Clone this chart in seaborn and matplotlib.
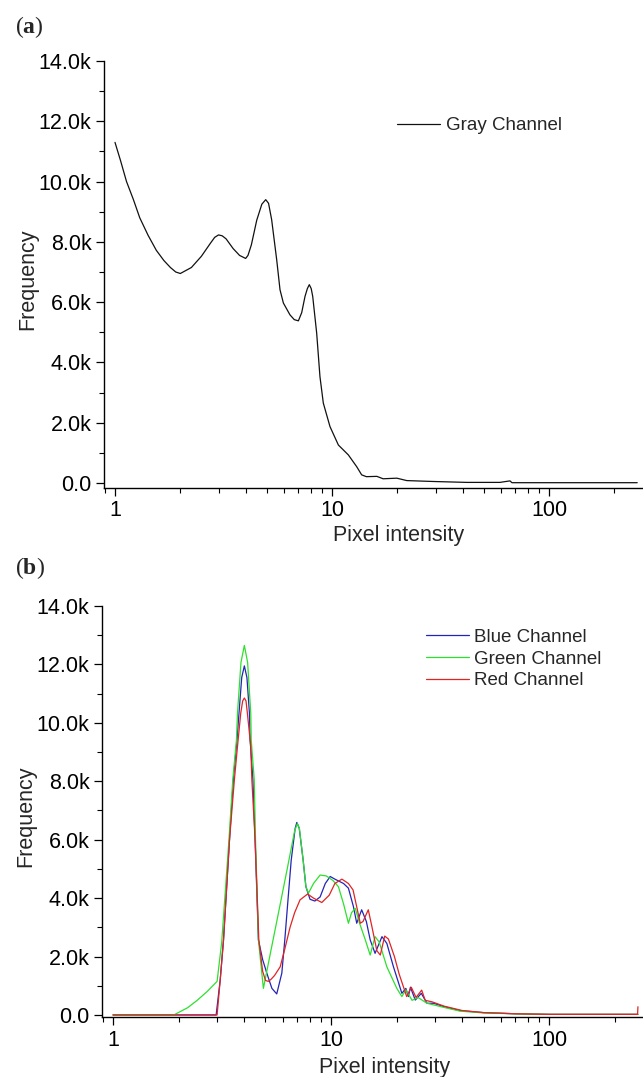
import numpy as np
import pandas as pd
import matplotlib
matplotlib.use("Agg")
import matplotlib.pyplot as plt
import seaborn as sns
from matplotlib.ticker import FuncFormatter, MultipleLocator, LogLocator, NullFormatter

# ---------------- data ----------------
gray_x = [1, 1.06, 1.13, 1.216, 1.3, 1.42, 1.55, 1.68, 1.8, 1.905, 2.0, 2.25, 2.5, 2.75,
          2.88, 3.0, 3.12, 3.25, 3.5, 3.75, 4.0, 4.1, 4.25, 4.5, 4.75, 4.95, 5.1, 5.27,
          5.56, 5.76, 5.97, 6.4, 6.7, 7.0, 7.25, 7.51, 7.7, 7.86, 8.02, 8.15, 8.5, 8.8,
          9.12, 9.79, 10.7, 11.9, 13.0, 13.7, 14.4, 16.1, 17.2, 19.9, 22.1, 29.3, 41.8,
          59.4, 66.1, 67.5, 100, 150, 200, 255]
gray_y = [11.3, 10.7, 10.0, 9.4, 8.8, 8.22, 7.72, 7.38, 7.15, 7.0, 6.95, 7.15, 7.52, 7.95,
          8.15, 8.23, 8.2, 8.1, 7.78, 7.55, 7.45, 7.55, 7.9, 8.72, 9.25, 9.4, 9.28, 8.74,
          7.41, 6.41, 5.97, 5.58, 5.42, 5.38, 5.65, 6.19, 6.45, 6.58, 6.45, 6.19, 4.97, 3.53,
          2.65, 1.87, 1.26, 0.93, 0.54, 0.27, 0.21, 0.22, 0.14, 0.16, 0.08, 0.05, 0.02,
          0.02, 0.07, 0.01, 0.01, 0.01, 0.01, 0.01]

blue_x = [1, 2.0, 2.97, 3.1, 3.21, 3.42, 3.56, 3.7, 3.78, 3.89, 4.0, 4.11, 4.22, 4.25,
          4.38, 4.48, 4.64, 4.85, 5.07, 5.35, 5.63, 5.94, 6.13, 6.34, 6.56, 6.84, 6.96,
          7.14, 7.44, 7.66, 8.0, 8.42, 8.9, 9.4, 9.9, 10.4, 11.4, 12.0, 12.65, 13.1,
          13.8, 14.5, 15.1, 15.9, 17.1, 18.0, 19.3, 21.1, 22.0, 22.6, 23.1, 24.3, 25.9,
          27.5, 29.5, 32.7, 39, 50, 70, 100, 150, 255]
blue_y = [0, 0, 0, 1.2, 2.57, 6.0, 8.05, 9.42, 10.33, 11.55, 11.95, 11.55, 10.33, 9.42,
          8.05, 6.0, 2.57, 1.9, 1.43, 0.91, 0.72, 1.43, 2.57, 3.94, 5.3, 6.39, 6.59,
          6.39, 5.3, 4.39, 3.96, 3.9, 4.04, 4.5, 4.74, 4.65, 4.5, 4.34, 3.71, 3.14,
          3.6, 3.2, 2.57, 2.11, 2.68, 2.45, 1.65, 0.74, 0.91, 0.63, 0.95, 0.51, 0.74,
          0.4, 0.4, 0.29, 0.15, 0.08, 0.04, 0.02, 0.02, 0.02]

green_x = [1, 1.9, 2.2, 2.43, 2.7, 3.0, 3.15, 3.4, 3.54, 3.68, 3.72, 3.86, 4.0, 4.14,
           4.28, 4.3, 4.44, 4.5, 4.64, 4.89, 5.3, 5.8, 6.3, 6.8, 7.0, 7.15,
           7.44, 7.66, 7.87, 8.3, 8.9, 9.5, 10.2, 10.8, 11.4, 12.0, 12.4, 12.9, 13.5,
           14.3, 15.1, 15.9, 16.6, 18.0, 20.0, 21.1, 22.0, 23.5, 25.0, 27.5, 32, 39,
           50, 70, 100, 150, 255]
green_y = [0, 0, 0.25, 0.5, 0.8, 1.15, 2.5, 6.0, 8.05, 9.42, 10.33, 12.07, 12.65, 12.07,
           10.33, 9.42, 8.05, 6.0, 2.57, 0.91, 2.22, 3.68, 5.03, 6.3, 6.55, 6.39,
           5.3, 4.39, 4.17, 4.5, 4.79, 4.76, 4.6, 4.39, 3.8, 3.14, 3.5, 3.65, 3.14,
           2.6, 2.05, 2.68, 2.5, 1.65, 0.91, 0.63, 0.86, 0.5, 0.6, 0.4, 0.28, 0.13,
           0.07, 0.04, 0.02, 0.02, 0.02]

red_x = [1, 2.0, 3.0, 3.1, 3.21, 3.42, 3.6, 3.72, 3.85, 3.93, 4.0, 4.07, 4.13, 4.28,
         4.33, 4.48, 4.66, 4.85, 5.0, 5.15, 5.3, 5.5, 5.84, 6.15, 6.48, 6.8, 7.2, 7.8,
         8.3, 9.06, 9.8, 10.4, 11.2, 12.0, 12.6, 13.6, 14.0, 14.8, 15.4, 16.2, 16.8,
         17.6, 18.3, 19.5, 20.5, 22.2, 23.3, 24.5, 26.0, 27.0, 29.0, 33.0, 40.0, 50.0,
         70.0, 100, 150, 254, 255]
red_y = [0, 0, 0, 1.2, 2.57, 6.0, 8.05, 9.19, 10.33, 10.75, 10.85, 10.75, 10.33, 9.19,
         8.05, 6.0, 2.57, 1.5, 1.18, 1.15, 1.22, 1.35, 1.65, 2.3, 3.0, 3.5, 3.94, 4.14,
         4.0, 3.85, 4.1, 4.5, 4.65, 4.5, 4.28, 3.14, 3.2, 3.6, 3.0, 2.2, 2.05,
         2.7, 2.6, 2.0, 1.4, 0.63, 0.95, 0.6, 0.85, 0.5, 0.45, 0.3, 0.15, 0.08,
         0.04, 0.02, 0.02, 0.02, 0.28]

x_ticks = [1, 10, 100]
y_ticks = [0, 2000, 4000, 6000, 8000, 10000, 12000, 14000]

# ---------------- style ----------------
sns.set_style("ticks")
plt.rcParams["font.family"] = ["Liberation Sans", "DejaVu Sans"]
plt.rcParams["mathtext.fontset"] = "custom"
plt.rcParams["mathtext.bf"] = "Liberation Serif:bold"
plt.rcParams["mathtext.rm"] = "Liberation Serif"

fig = plt.figure(figsize=(6.43, 10.77), dpi=100)
ax1 = fig.add_axes([104/643, (1077-488)/1077, 538/643, 427/1077])
ax2 = fig.add_axes([102/643, (1077-1017)/1077, 541/643, 411/1077])

df_gray = pd.DataFrame({"x": gray_x, "y": np.array(gray_y) * 1000, "ch": "Gray Channel"})
sns.lineplot(data=df_gray, x="x", y="y", hue="ch", palette={"Gray Channel": "#111111"},
             ax=ax1, lw=0.9, estimator=None, sort=False)

df_rgb = pd.concat([
    pd.DataFrame({"x": blue_x, "y": np.array(blue_y) * 1000, "ch": "Blue Channel"}),
    pd.DataFrame({"x": green_x, "y": np.array(green_y) * 1000, "ch": "Green Channel"}),
    pd.DataFrame({"x": red_x, "y": np.array(red_y) * 1000, "ch": "Red Channel"}),
])
pal = {"Blue Channel": "#2424b8", "Green Channel": "#2ee02e", "Red Channel": "#e02424"}
sns.lineplot(data=df_rgb, x="x", y="y", hue="ch", palette=pal, ax=ax2, lw=0.9,
             estimator=None, sort=False)

def kfmt(v, pos):
    return "0.0" if abs(v) < 1e-9 else f"{v/1000:.1f}k"

for ax, xr, yr, lab_x, lab_y, fl_x, fl_y in [
        (ax1, (0.8898, 268.3), (-166, 14000), 0.548, -0.086, -0.123, 0.49),
        (ax2, (0.890, 269.0), (-70, 14000), 0.522, -0.097, -0.122, 0.489)]:
    ax.set_xscale("log")
    ax.set_xlim(*xr)
    ax.set_ylim(*yr)
    ax.set_xticks(x_ticks)
    ax.xaxis.set_major_formatter(FuncFormatter(lambda v, p: f"{v:g}"))
    ax.xaxis.set_minor_locator(LogLocator(base=10, subs=np.arange(2, 10)))
    ax.xaxis.set_minor_formatter(NullFormatter())
    ax.set_yticks(y_ticks)
    ax.yaxis.set_major_formatter(FuncFormatter(kfmt))
    ax.yaxis.set_minor_locator(MultipleLocator(1000))
    ax.tick_params(which="major", direction="out", length=6, width=0.9, labelsize=15.5,
                   pad=3, color="black", labelcolor="black")
    ax.tick_params(which="minor", direction="out", length=3.5, width=0.8, color="black")
    for s in ["top", "right"]:
        ax.spines[s].set_visible(False)
    for s in ["left", "bottom"]:
        ax.spines[s].set_linewidth(1.0)
        ax.spines[s].set_color("black")
    ax.set_xlabel("Pixel intensity", fontsize=15.5)
    ax.set_ylabel("Frequency", fontsize=15.5)
    ax.xaxis.set_label_coords(lab_x, lab_y)
    ax.yaxis.set_label_coords(fl_x, fl_y)
    ax.set_facecolor("white")

leg1 = ax1.legend(loc="center left", bbox_to_anchor=(0.545, 0.848), frameon=False,
                  fontsize=13.5, handlelength=2.3, handletextpad=0.3, borderpad=0,
                  borderaxespad=0, title=None)
leg2 = ax2.legend(loc="center left", bbox_to_anchor=(0.598, 0.871), frameon=False,
                  fontsize=13.5, handlelength=2.3, handletextpad=0.3, borderpad=0,
                  borderaxespad=0, labelspacing=0.25, title=None)

fig.text(15/643, 1 - 27/1077, r"($\mathbf{a}$)", fontsize=17, ha="left", va="center",
         family="Liberation Serif")
fig.text(15/643, 1 - 568/1077, r"($\mathbf{b}$)", fontsize=17, ha="left", va="center",
         family="Liberation Serif")

fig.savefig("out.png", dpi=100, facecolor="white")
